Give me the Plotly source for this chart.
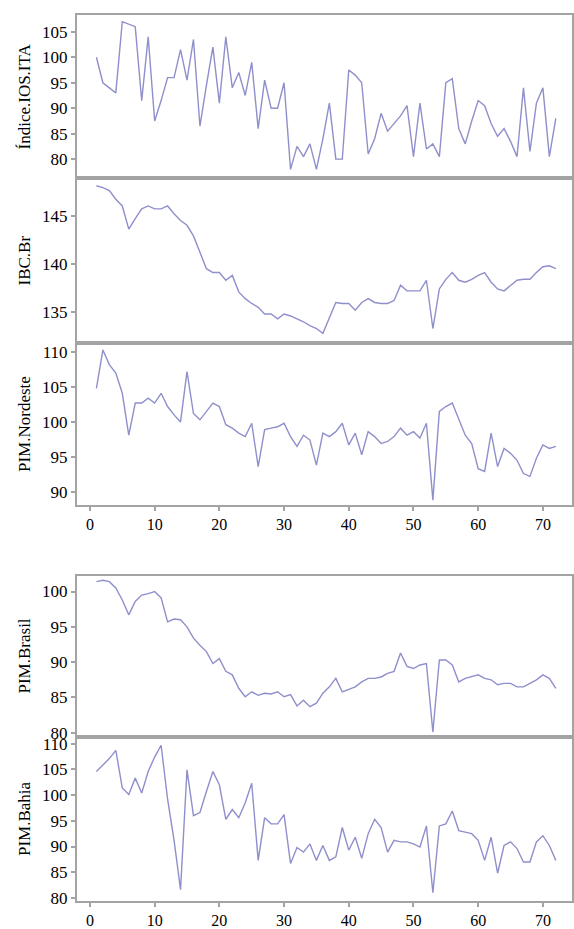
import plotly.graph_objects as go

W, H = 574, 929

x_vals = list(range(1, 73))

ios_ita = [100, 95, 94, 93, 107, 106.5, 106, 91.5, 104, 87.5, 91.5, 96, 96, 101.5, 95.5, 103.5,
           86.5, 94.5, 102, 91, 104, 94, 97, 92.5, 99, 86, 95.5, 90, 90, 95, 78, 82.5, 80.5, 83,
           78, 84, 91, 80, 80, 97.5, 96.5, 95, 81, 84, 89, 85.5, 87, 88.5, 90.5, 80.5, 91, 82,
           83, 80.5, 95, 95.8, 86, 83, 87.5, 91.5, 90.5, 87, 84.5, 86, 83.5, 80.5, 94, 81.5, 91,
           94, 80.5, 88]

ibc_br = [148.1, 147.9, 147.6, 146.7, 146, 143.6, 144.7, 145.7, 146, 145.7, 145.7, 146, 145.2,
          144.5, 144, 142.9, 141.2, 139.5, 139.1, 139.1, 138.3, 138.8, 137.1, 136.4, 135.9,
          135.5, 134.8, 134.8, 134.3, 134.8, 134.6, 134.3, 134, 133.6, 133.3, 132.8, 134.5, 136,
          135.9, 135.9, 135.2, 136, 136.4, 136, 135.9, 135.9, 136.2, 137.8, 137.2, 137.2, 137.2,
          138.3, 133.3, 137.4, 138.4, 139.1, 138.3, 138.1, 138.4, 138.8, 139.1, 138.1, 137.4,
          137.2, 137.8, 138.3, 138.4, 138.4, 139.1, 139.7, 139.8, 139.5]

pim_nordeste = [104.8, 110.3, 108.2, 107, 104.1, 98.1, 102.7, 102.7, 103.4, 102.7, 104.1, 102.2,
                101, 100, 107.2, 101.2, 100.3, 101.5, 102.7, 102.2, 99.6, 99.1, 98.4, 97.9, 99.8,
                93.6, 98.9, 99.1, 99.3, 99.8, 97.9, 96.5, 98.1, 97.4, 93.8, 98.4, 97.9, 98.6, 99.8,
                96.7, 98.4, 95.3, 98.6, 97.9, 96.9, 97.2, 97.9, 99.1, 98.1, 98.6, 97.7, 99.8, 88.8,
                101.5, 102.2, 102.7, 100.3, 98.1, 96.9, 93.3, 92.9, 98.4, 93.6, 96.2, 95.5, 94.5,
                92.6, 92.2, 94.8, 96.7, 96.2, 96.5]

pim_brasil = [101.4, 101.6, 101.4, 100.5, 98.8, 96.7, 98.6, 99.5, 99.7, 100, 99.1, 95.7, 96.1, 96,
              95, 93.4, 92.4, 91.5, 89.8, 90.5, 88.7, 88.2, 86.3, 85.1, 85.8, 85.3, 85.6, 85.5,
              85.8, 85.1, 85.4, 83.8, 84.6, 83.7, 84.2, 85.6, 86.5, 87.7, 85.8, 86.1, 86.5, 87.2,
              87.7, 87.7, 87.9, 88.4, 88.7, 91.3, 89.4, 89.1, 89.6, 89.8, 80.1, 90.3, 90.3, 89.6,
              87.2, 87.7, 87.9, 88.2, 87.7, 87.5, 86.8, 87, 87, 86.5, 86.5, 87, 87.5, 88.2, 87.7,
              86.3]

pim_bahia = [104.6, 105.9, 107.1, 108.7, 101.4, 100.1, 103.3, 100.4, 104.6, 107.4, 109.7, 99.2,
             91.2, 81.6, 104.9, 96, 96.6, 100.7, 104.6, 102, 95.3, 97.2, 95.6, 98.5, 102.3, 87.3,
             95.6, 94.4, 94.4, 96.2, 86.7, 89.8, 88.9, 90.5, 87.3, 90.2, 87.3, 88, 93.7, 89.3,
             91.8, 87.7, 92.5, 95.3, 93.7, 88.9, 91.2, 90.9, 90.9, 90.5, 89.9, 94, 81, 94, 94.4,
             96.9, 93.1, 92.8, 92.5, 91.2, 87.3, 91.8, 84.8, 90.2, 90.9, 89.6, 87, 87, 90.9, 92.1,
             90.2, 87.3]

series_names = ["Índice.IOS.ITA", "IBC.Br", "PIM.Nordeste", "PIM.Brasil", "PIM.Bahia"]
series_vals = [ios_ita, ibc_br, pim_nordeste, pim_brasil, pim_bahia]
y_ranges = [[76.3, 108.3], [131.8, 148.9], [88.1, 111.3], [79.4, 102.2], [79.4, 111.3]]
x_range = [-2.0, 74.5]
x_ticks = [0, 10, 20, 30, 40, 50, 60, 70]

# pixel layout of panels (top, bottom)
panels_px = [(15, 178), (178, 343), (343, 505), (576, 737), (737, 901)]
x_left_px, x_right_px = 77, 572
show_x_labels = [False, False, True, False, True]

line_color = "#8f8fcc"
frame_color = "#a3a3a3"
font_family = "Liberation Serif, Times New Roman, serif"

fig = go.Figure()
layout = dict(
    width=W, height=H,
    margin=dict(l=0, r=0, t=0, b=0),
    paper_bgcolor="white", plot_bgcolor="white",
    showlegend=False,
    font=dict(family=font_family, size=17, color="black"),
    annotations=[],
)

xdom = [x_left_px / W, x_right_px / W]
for i, (name, vals) in enumerate(zip(series_names, series_vals)):
    idx = i + 1
    xa = "x" if idx == 1 else f"x{idx}"
    ya = "y" if idx == 1 else f"y{idx}"
    fig.add_trace(go.Scatter(x=x_vals, y=vals, mode="lines",
                             line=dict(color=line_color, width=1.4),
                             xaxis=xa, yaxis=ya, hoverinfo="skip"))
    top, bot = panels_px[i]
    ydom = [1 - bot / H, 1 - top / H]
    layout["xaxis" if idx == 1 else f"xaxis{idx}"] = dict(
        domain=xdom, range=x_range, anchor=ya,
        showgrid=False, zeroline=False,
        showline=True, mirror=True, linecolor=frame_color, linewidth=2,
        ticks="outside" if show_x_labels[i] else "", ticklen=4, tickcolor=frame_color,
        tickwidth=1.5,
        tickvals=x_ticks,
        showticklabels=show_x_labels[i],
        tickfont=dict(family=font_family, size=16, color="black"),
        automargin=False,
    )
    layout["yaxis" if idx == 1 else f"yaxis{idx}"] = dict(
        domain=ydom, range=y_ranges[i], anchor=xa,
        showgrid=False, zeroline=False,
        showline=True, mirror=True, linecolor=frame_color, linewidth=2,
        ticks="outside", ticklen=4, tickcolor=frame_color, tickwidth=1.5,
        dtick=5, tick0=0,
        tickfont=dict(family=font_family, size=17, color="black"),
        automargin=False,
    )
    layout["annotations"].append(dict(
        text=name, x=24 / W, y=1 - (top + bot) / 2 / H, xref="paper", yref="paper",
        textangle=-90, showarrow=False, xanchor="center", yanchor="middle",
        font=dict(family=font_family, size=17, color="black"),
    ))

fig.update_layout(**layout)
fig.write_html("out.html", config={"displayModeBar": False},
               post_script="document.body.style.margin='0px';document.body.style.overflow='hidden';")
